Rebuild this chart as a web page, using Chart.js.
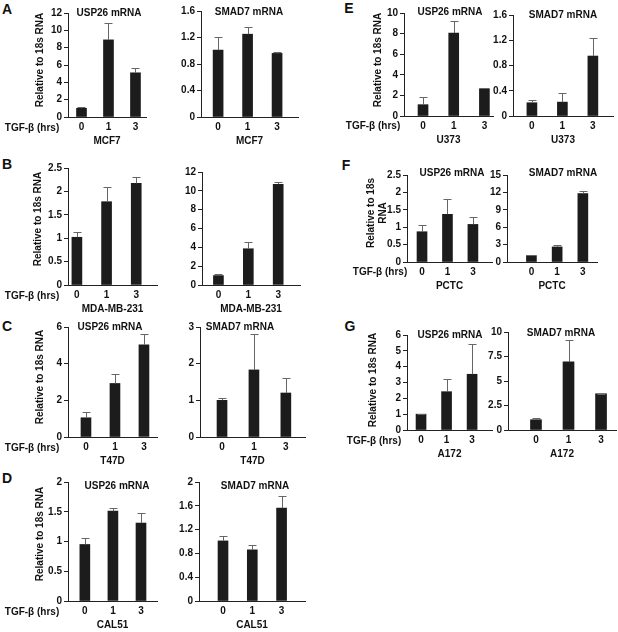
<!DOCTYPE html>
<html>
<head>
<meta charset="utf-8">
<script src="https://cdn.jsdelivr.net/npm/chart.js@4.4.1/dist/chart.umd.min.js"></script>
<style>
body { margin: 0; background: #fff; }
#fig { position: relative; width: 618px; height: 632px; overflow: hidden; font-family: "Liberation Sans", Arial, sans-serif; font-weight: bold; color: #111; }
#fig canvas { position: absolute; }
.t { position: absolute; white-space: nowrap; transform: translate(-50%, -50%); font-size: 10px; line-height: 1; }
.letter { font-size: 14px; }
.rot { transform: translate(-50%, -50%) rotate(-90deg); text-align: center; line-height: 1.15; }
</style>
</head>
<body>
<div id="fig"></div>
<script>
const doses = ['0', '1', '3'];
const cellLines = ['MCF7', 'MDA-MB-231', 'T47D', 'CAL51', 'U373', 'PCTC', 'A172'];
const genes = ['USP26 mRNA', 'SMAD7 mRNA'];

// USP26 mRNA relative to 18s RNA (mean / error)
const mcf7Usp26 = [1.0, 8.9, 5.1];
const mcf7Usp26Err = [0.1, 1.9, 0.55];
const mdaUsp26 = [1.02, 1.78, 2.17];
const mdaUsp26Err = [0.12, 0.32, 0.14];
const t47dUsp26 = [1.05, 2.92, 5.03];
const t47dUsp26Err = [0.33, 0.53, 0.57];
const cal51Usp26 = [0.95, 1.51, 1.31];
const cal51Usp26Err = [0.11, 0.06, 0.17];
const u373Usp26 = [1.1, 8.05, 2.65];
const u373Usp26Err = [0.7, 1.15, 0.02];
const pctcUsp26 = [0.87, 1.37, 1.08];
const pctcUsp26Err = [0.19, 0.44, 0.2];
const a172Usp26 = [1.0, 2.42, 3.52];
const a172Usp26Err = [0.02, 0.78, 1.9];

// SMAD7 mRNA relative to 18s RNA
const mcf7Smad7 = [1.01, 1.25, 0.96];
const mcf7Smad7Err = [0.2, 0.11, 0.02];
const mdaSmad7 = [1.0, 3.85, 10.7];
const mdaSmad7Err = [0.2, 0.75, 0.2];
const t47dSmad7 = [1.0, 1.83, 1.2];
const t47dSmad7Err = [0.06, 0.97, 0.42];
const cal51Smad7 = [1.01, 0.86, 1.56];
const cal51Smad7Err = [0.08, 0.08, 0.2];
const u373Smad7 = [0.21, 0.22, 0.95];
const u373Smad7Err = [0.05, 0.15, 0.29];
const pctcSmad7 = [1.1, 2.6, 11.8];
const pctcSmad7Err = [0.05, 0.3, 0.45];
const a172Smad7 = [1.05, 6.95, 3.7];
const a172Smad7Err = [0.2, 2.25, 0.02];

// y axis tick ranges
const usp26Max = [12, 2.5, 6, 2, 10, 2.5, 6];
const usp26Step = [2, 0.5, 2, 0.5, 2, 0.5, 1];
const smad7Max = [1.6, 12, 3, 2, 1.6, 15, 10];
const smad7Step = [0.4, 2, 1, 0.4, 0.4, 3, 2.5];

const usp26Means = [mcf7Usp26, mdaUsp26, t47dUsp26, cal51Usp26, u373Usp26, pctcUsp26, a172Usp26];
const usp26Errs = [mcf7Usp26Err, mdaUsp26Err, t47dUsp26Err, cal51Usp26Err, u373Usp26Err, pctcUsp26Err, a172Usp26Err];
const smad7Means = [mcf7Smad7, mdaSmad7, t47dSmad7, cal51Smad7, u373Smad7, pctcSmad7, a172Smad7];
const smad7Errs = [mcf7Smad7Err, mdaSmad7Err, t47dSmad7Err, cal51Smad7Err, u373Smad7Err, pctcSmad7Err, a172Smad7Err];

// layout: y-axis x, plot right end, pixel of top tick, pixel of zero, x range
const geoUsp26 = [
  { ax: 68, right: 146, top: 13, zero: 117, xMin: -0.5, xMax: 2.39 },
  { ax: 68, right: 157, top: 168, zero: 285, xMin: -0.3, xMax: 2.7 },
  { ax: 68, right: 157, top: 327, zero: 437, xMin: -0.62, xMax: 2.45 },
  { ax: 68, right: 157, top: 482, zero: 601, xMin: -0.6, xMax: 2.57 },
  { ax: 404, right: 493, top: 13, zero: 116, xMin: -0.62, xMax: 2.28 },
  { ax: 407, right: 492, top: 175, zero: 262, xMin: -0.59, xMax: 2.75 },
  { ax: 407, right: 492, top: 335, zero: 430, xMin: -0.55, xMax: 2.78 }
];
const geoSmad7 = [
  { ax: 201, right: 298, top: 11, zero: 117, xMin: -0.58, xMax: 2.71 },
  { ax: 202, right: 300, top: 172, zero: 285, xMin: -0.55, xMax: 2.73 },
  { ax: 200, right: 305, top: 327, zero: 437, xMin: -0.69, xMax: 2.6 },
  { ax: 199, right: 305, top: 482, zero: 601, xMin: -0.82, xMax: 2.8 },
  { ax: 513, right: 613, top: 15, zero: 116, xMin: -0.62, xMax: 2.66 },
  { ax: 507, right: 597, top: 175, zero: 262, xMin: -0.95, xMax: 2.55 },
  { ax: 508, right: 616, top: 332, zero: 430, xMin: -0.86, xMax: 2.46, bar: 11 }
];

const FONT = '"Liberation Sans", Arial, sans-serif';
const YW = 40;   // width reserved for y ticks
const PT = 8;    // space above the top tick
const CELL_OFF = 24;
const fig = document.getElementById('fig');

const errorBars = {
  id: 'errorBars',
  afterDatasetsDraw(chart) {
    const ctx = chart.ctx;
    const y = chart.scales.y;
    const ds = chart.data.datasets[0];
    ctx.save();
    ctx.strokeStyle = '#666';
    ctx.lineWidth = 1;
    chart.getDatasetMeta(0).data.forEach((bar, i) => {
      const top = Math.round(y.getPixelForValue(ds.data[i].y + ds.errors[i])) + 0.5;
      const x = Math.round(bar.x) + 0.5;
      ctx.beginPath();
      ctx.moveTo(x, bar.y);
      ctx.lineTo(x, top);
      ctx.moveTo(x - 4, top);
      ctx.lineTo(x + 4, top);
      ctx.stroke();
    });
    ctx.restore();
  }
};

function fmt(v) {
  return String(+v.toFixed(2));
}

function makeChart(g, means, errs, yMax, yStep, cell) {
  const left = g.ax - YW;
  const top = g.top - PT;
  const w = g.right - left + 1;
  const h = g.zero - top + CELL_OFF + 6;
  const canvas = document.createElement('canvas');
  canvas.width = w;
  canvas.height = h;
  canvas.style.left = left + 'px';
  canvas.style.top = top + 'px';
  canvas.style.width = w + 'px';
  canvas.style.height = h + 'px';
  fig.appendChild(canvas);
  const font = { family: FONT, size: 10, weight: 'bold' };
  new Chart(canvas, {
    type: 'bar',
    data: {
      datasets: [{
        data: means.map((m, i) => ({ x: i, y: m })),
        errors: errs,
        backgroundColor: '#1c1c1c',
        barThickness: g.bar || 10
      }]
    },
    options: {
      responsive: false,
      animation: false,
      devicePixelRatio: 1,
      layout: { padding: { top: PT, right: 1, left: 0, bottom: 0 } },
      plugins: { legend: { display: false }, tooltip: { enabled: false } },
      scales: {
        x: {
          type: 'linear',
          min: g.xMin,
          max: g.xMax,
          offset: false,
          grid: { display: false, drawTicks: false },
          border: { color: '#222', width: 1 },
          afterBuildTicks: s => { s.ticks = doses.map((d, i) => ({ value: i })); },
          afterFit: s => { s.height = CELL_OFF + 6; },
          ticks: { callback: v => doses[v], font: font, color: '#111', padding: 4, maxRotation: 0 },
          title: { display: true, text: cell, font: font, color: '#111', padding: 0 }
        },
        y: {
          min: 0,
          max: yMax,
          grid: { drawOnChartArea: false, drawTicks: true, tickLength: 4, color: '#222' },
          border: { color: '#222', width: 1 },
          afterFit: s => { s.width = YW; },
          ticks: { stepSize: yStep, callback: v => fmt(v), font: font, color: '#111', padding: 2 }
        }
      }
    },
    plugins: [errorBars]
  });
}

function addText(txt, x, y, cls) {
  const d = document.createElement('div');
  d.className = 't' + (cls ? ' ' + cls : '');
  d.innerHTML = txt;
  d.style.left = x + 'px';
  d.style.top = y + 'px';
  fig.appendChild(d);
}

for (let k = 0; k < cellLines.length; k++) {
  makeChart(geoUsp26[k], usp26Means[k], usp26Errs[k], usp26Max[k], usp26Step[k], cellLines[k]);
  makeChart(geoSmad7[k], smad7Means[k], smad7Errs[k], smad7Max[k], smad7Step[k], cellLines[k]);
}

// panel letters
addText('A', 7, 9, 'letter');
addText('B', 7, 164, 'letter');
addText('C', 7, 326, 'letter');
addText('D', 7, 478, 'letter');
addText('E', 349, 8, 'letter');
addText('F', 346, 165, 'letter');
addText('G', 350, 326, 'letter');

// treatment row labels
const tgf = 'TGF-\u03b2 (hrs)';
addText(tgf, 32, 128);
addText(tgf, 32, 296);
addText(tgf, 32, 448);
addText(tgf, 32, 612);
addText(tgf, 373, 126);
addText(tgf, 380, 272);
addText(tgf, 374, 441);

// y axis titles
const yTitle = 'Relative to 18s RNA';
addText(yTitle, 40, 60, 'rot');
addText(yTitle, 38, 219, 'rot');
addText(yTitle, 40, 377, 'rot');
addText(yTitle, 40, 534, 'rot');
addText(yTitle, 378, 60, 'rot');
addText('Relative to 18s<br>RNA', 376, 213, 'rot');
addText(yTitle, 373, 380, 'rot');

// chart titles
addText(genes[0], 109, 13);
addText(genes[1], 249, 12);
addText(genes[0], 110, 327);
addText(genes[1], 240, 327);
addText(genes[0], 117, 486);
addText(genes[1], 255, 486);
addText(genes[0], 450, 12);
addText(genes[1], 563, 15);
addText(genes[0], 452, 173);
addText(genes[1], 563, 173);
addText(genes[0], 450, 335);
addText(genes[1], 561, 333);
</script>
</body>
</html>
